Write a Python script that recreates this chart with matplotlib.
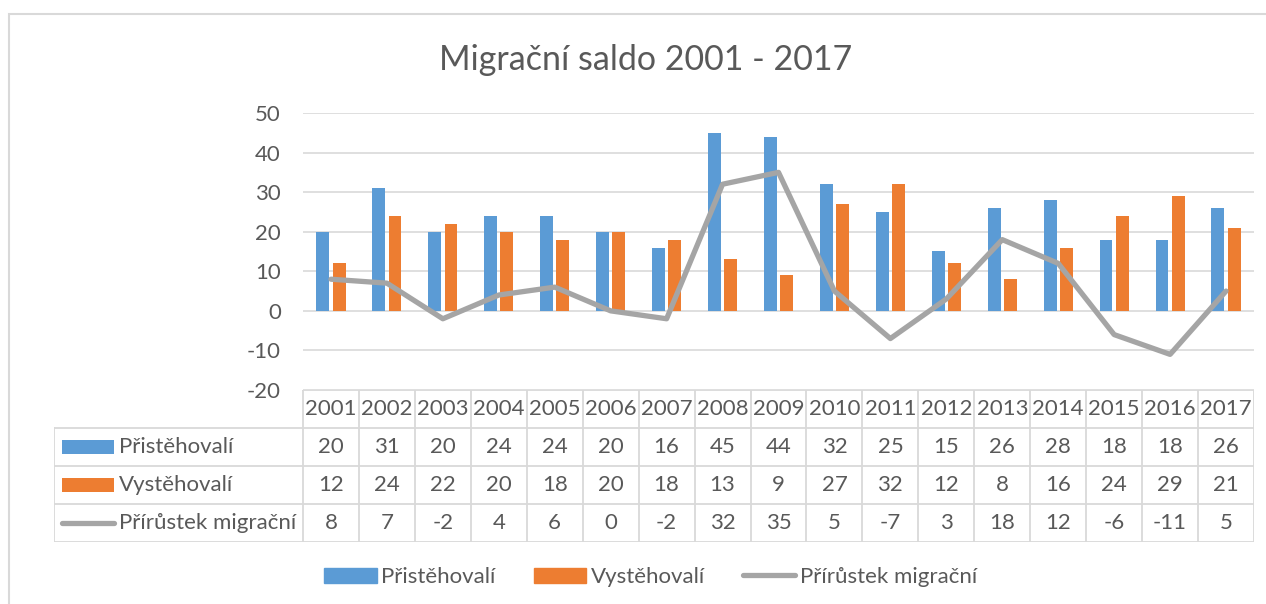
import numpy as np
import matplotlib.pyplot as plt
from matplotlib.patches import Rectangle, Patch
from matplotlib.lines import Line2D

plt.rcParams['font.family'] = ['Lato', 'DejaVu Sans']
plt.rcParams['axes.unicode_minus'] = False

years = ['2001', '2002', '2003', '2004', '2005', '2006', '2007', '2008', '2009',
         '2010', '2011', '2012', '2013', '2014', '2015', '2016', '2017']
pristehovali = [20, 31, 20, 24, 24, 20, 16, 45, 44, 32, 25, 15, 26, 28, 18, 18, 26]
vystehovali = [12, 24, 22, 20, 18, 20, 18, 13, 9, 27, 32, 12, 8, 16, 24, 29, 21]
prirustek = [8, 7, -2, 4, 6, 0, -2, 32, 35, 5, -7, 3, 18, 12, -6, -11, 5]
series_names = ['Přistěhovalí', 'Vystěhovalí', 'Přírůstek migrační']

BLUE = '#5B9BD5'
ORANGE = '#ED7D31'
GRAY = '#A5A5A5'
TXT = '#595959'
GRID = '#D9D9D9'
FS = 16

W, H = 1266, 604
fig = plt.figure(figsize=(W / 100, H / 100), dpi=100)

# pixel layout (from the reference)
px_left, px_right = 303, 1254
px_top, px_bottom = 113, 390
tab_left, tab_bottom = 54, 542

ax = fig.add_axes([px_left / W, 1 - px_bottom / H,
                   (px_right - px_left) / W, (px_bottom - px_top) / H])
x = np.arange(len(years))
ax.bar(x - 0.145, pristehovali, width=0.23, color=BLUE, zorder=3)
ax.bar(x + 0.145, vystehovali, width=0.23, color=ORANGE, zorder=3)
ax.plot(x, prirustek, color=GRAY, linewidth=3.8, zorder=4, solid_capstyle='round')
ax.set_xlim(-0.5, len(years) - 0.5)
ax.set_ylim(-20, 50)
ax.set_yticks(range(-20, 51, 10))
ax.set_xticks([])
ax.yaxis.grid(True, color=GRID, linewidth=1.2, zorder=0)
ax.tick_params(axis='y', length=0, pad=16, labelsize=FS, labelcolor=TXT)
for s in ax.spines.values():
    s.set_visible(False)

# data table below the plot
slot = (px_right - px_left) / len(years)
tx_min = -0.5 - (px_left - tab_left) / slot
tax = fig.add_axes([tab_left / W, 1 - tab_bottom / H,
                    (px_right - tab_left) / W, (tab_bottom - px_bottom) / H])
tax.set_xlim(tx_min, len(years) - 0.5)
tax.set_ylim(4, 0)
tax.axis('off')

lc = dict(color=GRID, linewidth=1.3)
tax.plot([-0.5, len(years) - 0.5], [0, 0], **lc)
for r in range(1, 5):
    tax.plot([tx_min, len(years) - 0.5], [r, r], **lc)
for b in np.arange(-0.5, len(years), 1.0):
    tax.plot([b, b], [0, 4], **lc)
tax.plot([tx_min, tx_min], [1, 4], **lc)

for i, yr in enumerate(years):
    tax.text(i, 0.5, yr, ha='center', va='center', fontsize=FS, color=TXT)
rows = [pristehovali, vystehovali, prirustek]
for r, vals in enumerate(rows):
    for i, v in enumerate(vals):
        tax.text(i, r + 1.5, str(v), ha='center', va='center', fontsize=FS, color=TXT)

def px2x(px):
    return -0.5 + (px - px_left) / slot

key_l, key_r = px2x(62), px2x(114)
tax.add_patch(Rectangle((key_l, 1.32), key_r - key_l, 0.36, color=BLUE, lw=0))
tax.add_patch(Rectangle((key_l, 2.32), key_r - key_l, 0.36, color=ORANGE, lw=0))
tax.plot([key_l, key_r], [3.5, 3.5], color=GRAY, linewidth=3.8, solid_capstyle='round')
for r, name in enumerate(series_names):
    tax.text(px2x(119), r + 1.5, name, ha='left', va='center', fontsize=FS, color=TXT)

fig.text(0.51, 1 - 60 / H, 'Migrační saldo 2001 - 2017', ha='center', va='center',
         fontsize=24.5, color=TXT)

handles = [Patch(color=BLUE), Patch(color=ORANGE),
           Line2D([], [], color=GRAY, linewidth=3.8, solid_capstyle='round')]
fig.legend(handles, series_names, loc='center', bbox_to_anchor=(0.514, 1 - 577 / H),
           ncol=3, frameon=False, fontsize=FS, labelcolor=TXT, handlelength=2.35,
           handleheight=0.65, handletextpad=0.22, columnspacing=1.7)

fig.add_artist(Rectangle((9 / W, -0.1), 1.2, 1.1 - 14 / H, transform=fig.transFigure,
                         fill=False, edgecolor=GRID, linewidth=1.5))

fig.savefig('out.png', dpi=100)
